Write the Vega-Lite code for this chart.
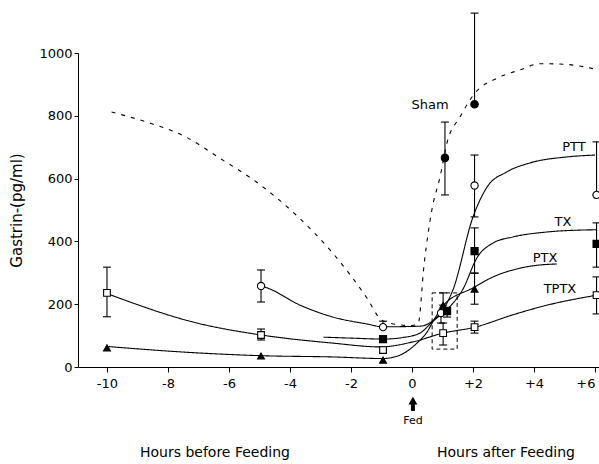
{
  "$schema": "https://vega.github.io/schema/vega-lite/v6.json",
  "width": 521,
  "height": 314,
  "autosize": {"type": "none"},
  "padding": {"left": 78, "top": 53, "right": 0, "bottom": 97},
  "background": "white",
  "config": {
    "view": {"stroke": null},
    "font": "DejaVu Sans",
    "axis": {"grid": false, "domainColor": "black", "tickColor": "black", "labelColor": "black", "titleColor": "black", "labelFont": "DejaVu Sans", "labelFontSize": 13, "titleFont": "DejaVu Sans", "titleFontWeight": "normal", "titleFontSize": 15}
  },
  "datasets": {
    "curves": [
      {"series": "Sham", "x": -9.85, "y": 812}, {"series": "Sham", "x": -8.7, "y": 780}, {"series": "Sham", "x": -7.4, "y": 732}, {"series": "Sham", "x": -6.3, "y": 665}, {"series": "Sham", "x": -5.1, "y": 589}, {"series": "Sham", "x": -3.8, "y": 484}, {"series": "Sham", "x": -2.6, "y": 363}, {"series": "Sham", "x": -1.5, "y": 223}, {"series": "Sham", "x": -1.0, "y": 150}, {"series": "Sham", "x": -0.6, "y": 137}, {"series": "Sham", "x": 0.0, "y": 132}, {"series": "Sham", "x": 0.2, "y": 138}, {"series": "Sham", "x": 0.4, "y": 330}, {"series": "Sham", "x": 0.65, "y": 500}, {"series": "Sham", "x": 0.92, "y": 606}, {"series": "Sham", "x": 1.15, "y": 715}, {"series": "Sham", "x": 1.57, "y": 796}, {"series": "Sham", "x": 2.07, "y": 873}, {"series": "Sham", "x": 2.79, "y": 920}, {"series": "Sham", "x": 3.54, "y": 946}, {"series": "Sham", "x": 4.2, "y": 966}, {"series": "Sham", "x": 5.0, "y": 964}, {"series": "Sham", "x": 6.13, "y": 946},
      {"series": "PTT", "x": -4.95, "y": 258}, {"series": "PTT", "x": -4.75, "y": 252}, {"series": "PTT", "x": -3.67, "y": 197}, {"series": "PTT", "x": -2.59, "y": 159}, {"series": "PTT", "x": -1.48, "y": 137}, {"series": "PTT", "x": -0.95, "y": 128}, {"series": "PTT", "x": 0.26, "y": 130}, {"series": "PTT", "x": 0.69, "y": 148}, {"series": "PTT", "x": 1.0, "y": 180}, {"series": "PTT", "x": 1.34, "y": 245}, {"series": "PTT", "x": 2.0, "y": 478}, {"series": "PTT", "x": 2.46, "y": 573}, {"series": "PTT", "x": 3.1, "y": 621}, {"series": "PTT", "x": 3.87, "y": 650}, {"series": "PTT", "x": 5.08, "y": 669}, {"series": "PTT", "x": 6.0, "y": 675},
      {"series": "TX", "x": -2.9, "y": 95}, {"series": "TX", "x": -2.0, "y": 92}, {"series": "TX", "x": -0.95, "y": 89}, {"series": "TX", "x": -0.3, "y": 94}, {"series": "TX", "x": 0.26, "y": 108}, {"series": "TX", "x": 0.69, "y": 146}, {"series": "TX", "x": 1.2, "y": 188}, {"series": "TX", "x": 1.67, "y": 248}, {"series": "TX", "x": 2.13, "y": 348}, {"series": "TX", "x": 2.66, "y": 395}, {"series": "TX", "x": 3.3, "y": 414}, {"series": "TX", "x": 4.43, "y": 430}, {"series": "TX", "x": 5.5, "y": 436}, {"series": "TX", "x": 6.05, "y": 437},
      {"series": "PTX", "x": -9.95, "y": 65}, {"series": "PTX", "x": -7.05, "y": 45}, {"series": "PTX", "x": -4.95, "y": 36}, {"series": "PTX", "x": -2.59, "y": 32}, {"series": "PTX", "x": -0.95, "y": 27}, {"series": "PTX", "x": -0.39, "y": 38}, {"series": "PTX", "x": 0.16, "y": 76}, {"series": "PTX", "x": 0.49, "y": 111}, {"series": "PTX", "x": 0.69, "y": 145}, {"series": "PTX", "x": 1.02, "y": 195}, {"series": "PTX", "x": 2.0, "y": 252}, {"series": "PTX", "x": 2.66, "y": 287}, {"series": "PTX", "x": 3.55, "y": 315}, {"series": "PTX", "x": 4.2, "y": 325}, {"series": "PTX", "x": 4.75, "y": 328},
      {"series": "TPTX", "x": -9.95, "y": 232}, {"series": "TPTX", "x": -7.05, "y": 140}, {"series": "TPTX", "x": -4.95, "y": 102}, {"series": "TPTX", "x": -2.59, "y": 76}, {"series": "TPTX", "x": -1.05, "y": 64}, {"series": "TPTX", "x": 0.03, "y": 80}, {"series": "TPTX", "x": 1.02, "y": 108}, {"series": "TPTX", "x": 2.07, "y": 127}, {"series": "TPTX", "x": 3.3, "y": 166}, {"series": "TPTX", "x": 4.43, "y": 197}, {"series": "TPTX", "x": 6.07, "y": 229}
    ],
    "points": [
      {"series": "Sham", "x": 1.08, "y": 666}, {"series": "Sham", "x": 2.05, "y": 837},
      {"series": "PTT", "x": -4.95, "y": 258}, {"series": "PTT", "x": -0.95, "y": 127}, {"series": "PTT", "x": 0.95, "y": 172}, {"series": "PTT", "x": 2.05, "y": 578}, {"series": "PTT", "x": 6.05, "y": 548},
      {"series": "TX", "x": -0.95, "y": 89}, {"series": "TX", "x": 1.15, "y": 178}, {"series": "TX", "x": 2.05, "y": 369}, {"series": "TX", "x": 6.05, "y": 392},
      {"series": "PTX", "x": -10, "y": 61}, {"series": "PTX", "x": -4.95, "y": 35}, {"series": "PTX", "x": -0.95, "y": 22}, {"series": "PTX", "x": 1.02, "y": 197}, {"series": "PTX", "x": 2.05, "y": 248},
      {"series": "TPTX", "x": -10, "y": 236}, {"series": "TPTX", "x": -4.95, "y": 102}, {"series": "TPTX", "x": -0.95, "y": 54}, {"series": "TPTX", "x": 1.02, "y": 108}, {"series": "TPTX", "x": 2.05, "y": 127}, {"series": "TPTX", "x": 6.05, "y": 229}
    ],
    "errors": [
      {"series": "Sham", "x": 1.08, "lo": 548, "hi": 780}, {"series": "Sham", "x": 2.05, "lo": 837, "hi": 1127},
      {"series": "PTT", "x": -4.95, "lo": 207, "hi": 309}, {"series": "PTT", "x": -0.95, "lo": 127, "hi": 146}, {"series": "PTT", "x": 0.95, "lo": 140, "hi": 172}, {"series": "PTT", "x": 2.05, "lo": 478, "hi": 675}, {"series": "PTT", "x": 6.05, "lo": 548, "hi": 717},
      {"series": "TX", "x": -0.95, "lo": 80, "hi": 98}, {"series": "TX", "x": 1.15, "lo": 159, "hi": 190}, {"series": "TX", "x": 2.05, "lo": 299, "hi": 443}, {"series": "TX", "x": 6.05, "lo": 318, "hi": 459},
      {"series": "PTX", "x": 1.02, "lo": 197, "hi": 236}, {"series": "PTX", "x": 2.05, "lo": 200, "hi": 299},
      {"series": "TPTX", "x": -10, "lo": 160, "hi": 318}, {"series": "TPTX", "x": -4.95, "lo": 86, "hi": 121}, {"series": "TPTX", "x": -0.95, "lo": 45, "hi": 63}, {"series": "TPTX", "x": 1.02, "lo": 70, "hi": 140}, {"series": "TPTX", "x": 2.05, "lo": 108, "hi": 146}, {"series": "TPTX", "x": 6.05, "lo": 169, "hi": 287}
    ],
    "box": [{"x": 0.66, "x2": 1.48, "y": 57, "y2": 236}],
    "labels": [
      {"label": "Sham", "x": 0.59, "y": 834, "size": 13},
      {"label": "PTT", "x": 5.31, "y": 700, "size": 13},
      {"label": "TX", "x": 4.95, "y": 462, "size": 13},
      {"label": "PTX", "x": 4.36, "y": 347, "size": 13},
      {"label": "TPTX", "x": 4.85, "y": 248, "size": 13},
      {"label": "Fed", "x": 0.03, "y": -172, "size": 11},
      {"label": "Hours before Feeding", "x": -6.46, "y": -274, "size": 14},
      {"label": "Hours after Feeding", "x": 3.08, "y": -274, "size": 14}
    ],
    "arrow": [{"x": 0.03, "head": -107, "top": -116, "bottom": -140}]
  },
  "layer": [
    {
      "data": {"name": "curves"},
      "mark": {"type": "line", "interpolate": "monotone", "color": "black", "strokeWidth": 1.1},
      "encoding": {
        "x": {"field": "x", "type": "quantitative", "title": null, "scale": {"domain": [-10.95, 6.13], "nice": false, "zero": false},
          "axis": {"values": [-10, -8, -6, -4, -2, 0, 2, 4, 6], "tickSize": 5, "labelPadding": 5, "labelFlush": 6, "labelExpr": "datum.value > 0 ? '+' + datum.value : (datum.value < 0 ? '-' + abs(datum.value) : '0')"}},
        "y": {"field": "y", "type": "quantitative", "title": "Gastrin-(pg/ml)", "scale": {"domain": [0, 1000], "nice": false, "zero": false},
          "axis": {"values": [0, 200, 400, 600, 800, 1000], "tickSize": 4, "labelPadding": 2, "format": "d", "titlePadding": 14}},
        "detail": {"field": "series"},
        "strokeDash": {"field": "series", "type": "nominal", "scale": {"domain": ["Sham", "PTT", "TX", "PTX", "TPTX"], "range": [[4, 6], [1, 0], [1, 0], [1, 0], [1, 0]]}, "legend": null}
      }
    },
    {
      "data": {"name": "box"},
      "mark": {"type": "rect", "fill": null, "fillOpacity": 0, "stroke": "black", "strokeWidth": 1, "strokeDash": [4, 3]},
      "encoding": {
        "x": {"field": "x", "type": "quantitative", "title": null, "scale": {"domain": [-10.95, 6.13], "nice": false, "zero": false}},
        "x2": {"field": "x2"},
        "y": {"field": "y", "type": "quantitative", "title": "Gastrin-(pg/ml)", "scale": {"domain": [0, 1000], "nice": false, "zero": false}},
        "y2": {"field": "y2"}
      }
    },
    {
      "data": {"name": "errors"},
      "mark": {"type": "rule", "color": "black", "strokeWidth": 1.1, "opacity": 1},
      "encoding": {
        "x": {"field": "x", "type": "quantitative", "title": null, "scale": {"domain": [-10.95, 6.13], "nice": false, "zero": false}},
        "y": {"field": "lo", "type": "quantitative", "title": "Gastrin-(pg/ml)", "scale": {"domain": [0, 1000], "nice": false, "zero": false}},
        "y2": {"field": "hi"}
      }
    },
    {
      "data": {"name": "errors"},
      "transform": [{"fold": ["lo", "hi"], "as": ["end", "cap"]}],
      "mark": {"type": "tick", "orient": "horizontal", "color": "black", "opacity": 1, "thickness": 1.1, "size": 8},
      "encoding": {
        "x": {"field": "x", "type": "quantitative", "title": null, "scale": {"domain": [-10.95, 6.13], "nice": false, "zero": false}},
        "y": {"field": "cap", "type": "quantitative", "title": "Gastrin-(pg/ml)", "scale": {"domain": [0, 1000], "nice": false, "zero": false}}
      }
    },
    {
      "data": {"name": "points"},
      "mark": {"type": "point", "stroke": "black", "strokeWidth": 1.1, "opacity": 1},
      "encoding": {
        "x": {"field": "x", "type": "quantitative", "title": null, "scale": {"domain": [-10.95, 6.13], "nice": false, "zero": false}},
        "y": {"field": "y", "type": "quantitative", "title": "Gastrin-(pg/ml)", "scale": {"domain": [0, 1000], "nice": false, "zero": false}},
        "shape": {"field": "series", "type": "nominal", "scale": {"domain": ["Sham", "PTT", "TX", "PTX", "TPTX"], "range": ["circle", "circle", "square", "triangle-up", "square"]}, "legend": null},
        "fill": {"field": "series", "type": "nominal", "scale": {"domain": ["Sham", "PTT", "TX", "PTX", "TPTX"], "range": ["black", "white", "black", "black", "white"]}, "legend": null},
        "size": {"field": "series", "type": "nominal", "scale": {"domain": ["Sham", "PTT", "TX", "PTX", "TPTX"], "range": [55, 45, 50, 60, 45]}, "legend": null}
      }
    },
    {
      "data": {"name": "arrow"},
      "mark": {"type": "rule", "color": "black", "strokeWidth": 4},
      "encoding": {
        "x": {"field": "x", "type": "quantitative", "title": null, "scale": {"domain": [-10.95, 6.13], "nice": false, "zero": false}},
        "y": {"field": "top", "type": "quantitative", "title": "Gastrin-(pg/ml)", "scale": {"domain": [0, 1000], "nice": false, "zero": false}},
        "y2": {"field": "bottom"}
      }
    },
    {
      "data": {"name": "arrow"},
      "mark": {"type": "point", "shape": "triangle-up", "filled": true, "color": "black", "size": 80, "opacity": 1},
      "encoding": {
        "x": {"field": "x", "type": "quantitative", "title": null, "scale": {"domain": [-10.95, 6.13], "nice": false, "zero": false}},
        "y": {"field": "head", "type": "quantitative", "title": "Gastrin-(pg/ml)", "scale": {"domain": [0, 1000], "nice": false, "zero": false}}
      }
    },
    {
      "data": {"name": "labels"},
      "mark": {"type": "text", "color": "black", "font": "DejaVu Sans", "align": "center", "baseline": "middle"},
      "encoding": {
        "x": {"field": "x", "type": "quantitative", "title": null, "scale": {"domain": [-10.95, 6.13], "nice": false, "zero": false}},
        "y": {"field": "y", "type": "quantitative", "title": "Gastrin-(pg/ml)", "scale": {"domain": [0, 1000], "nice": false, "zero": false}},
        "text": {"field": "label"},
        "size": {"field": "size", "type": "quantitative", "scale": null}
      }
    }
  ]
}
